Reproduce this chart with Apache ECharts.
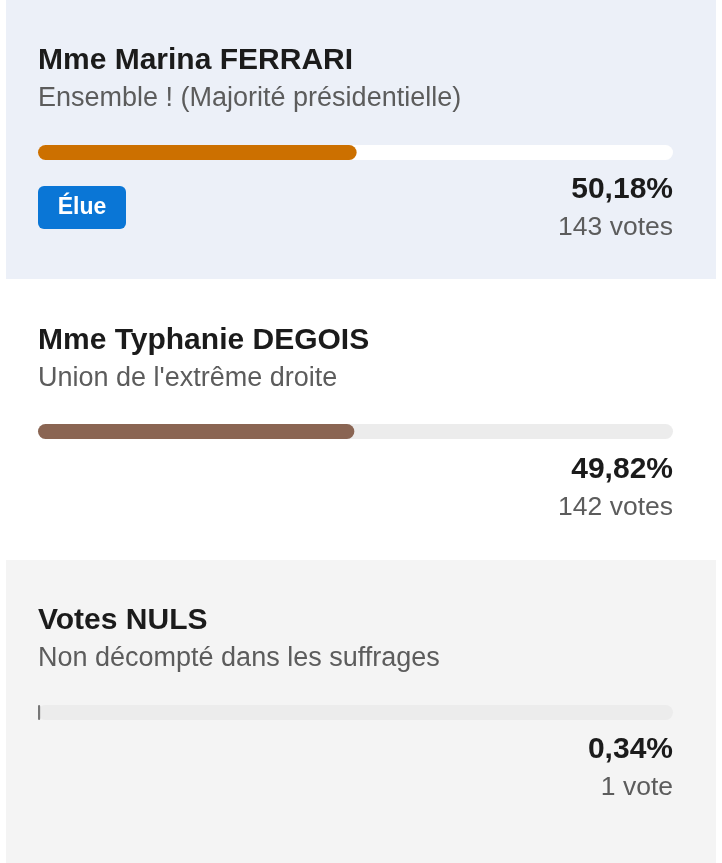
<!DOCTYPE html>
<html>
<head>
<meta charset="utf-8">
<script src="https://cdn.jsdelivr.net/npm/echarts@6/dist/echarts.min.js"></script>
<style>
  html, body { margin: 0; padding: 0; background: #ffffff; }
  #chart { width: 722px; height: 863px; }
</style>
</head>
<body>
<div id="chart"></div>
<script>
// ---- data ----
var candidates = ['Mme Marina FERRARI', 'Mme Typhanie DEGOIS', 'Votes NULS'];
var parties = ['Ensemble ! (Majorité présidentielle)', "Union de l'extrême droite", 'Non décompté dans les suffrages'];
var percents = [50.18, 49.82, 0.34];
var votes = [143, 142, 1];
var elected = [true, false, false];

// ---- styles ----
var barColors = ['#cc7000', '#8a6553', '#777777'];
var trackColors = ['#ffffff', '#ececec', '#ececec'];
var panelColors = ['#ecf0f8', '#ffffff', '#f4f4f4'];
var panelTops = [0, 279, 560];
var panelBottoms = [279, 560, 863];
var offsets = [0, 280, 560];
var FONT = '"Liberation Sans", Arial, sans-serif';
var NAME_FS = 30, SUB_FS = 27, PCT_FS = 30, VOTE_FS = 26.5;

var chart = echarts.init(document.getElementById('chart'), null, { renderer: 'canvas' });

var grids = [], xAxes = [], yAxes = [], series = [], graphics = [];

for (var i = 0; i < candidates.length; i++) {
  var off = offsets[i];
  graphics.push({
    type: 'rect', z: -10, silent: true,
    shape: { x: 6, y: panelTops[i], width: 710, height: panelBottoms[i] - panelTops[i] },
    style: { fill: panelColors[i] }
  });
  grids.push({ left: 38, width: 635, top: 145 + off - (i === 1 ? 1 : 0), height: 15 });
  xAxes.push({ type: 'value', gridIndex: i, min: 0, max: 100, show: false });
  yAxes.push({ type: 'category', gridIndex: i, data: [candidates[i]], show: false });
  series.push({
    type: 'bar', xAxisIndex: i, yAxisIndex: i,
    data: [percents[i]], barWidth: 15,
    itemStyle: { color: barColors[i], borderRadius: 7.5 },
    showBackground: true,
    backgroundStyle: { color: trackColors[i], borderRadius: 7.5 },
    silent: true, animation: false
  });
  // name
  graphics.push({
    type: 'text',
    x: 38, y: 71.5 + off - 0.35 * NAME_FS,
    style: { text: candidates[i], font: 'bold ' + NAME_FS + 'px ' + FONT, fill: '#1b1b1b', verticalAlign: 'middle', align: 'left' }
  });
  // party
  graphics.push({
    type: 'text',
    x: 38, y: 108 + off - 0.35 * SUB_FS,
    style: { text: parties[i], font: SUB_FS + 'px ' + FONT, fill: '#5c5c5c', verticalAlign: 'middle', align: 'left' }
  });
  // percent
  graphics.push({
    type: 'text',
    x: 673, y: 200 + off - 0.35 * PCT_FS,
    style: { text: percents[i].toFixed(2).replace('.', ',') + '%', font: 'bold ' + PCT_FS + 'px ' + FONT, fill: '#1b1b1b', verticalAlign: 'middle', align: 'right' }
  });
  // votes
  graphics.push({
    type: 'text',
    x: 673, y: 237 + off - 0.35 * VOTE_FS,
    style: { text: votes[i] + (votes[i] > 1 ? ' votes' : ' vote'), font: VOTE_FS + 'px ' + FONT, fill: '#5c5c5c', verticalAlign: 'middle', align: 'right' }
  });
  if (elected[i]) {
    graphics.push({
      type: 'rect',
      shape: { x: 38, y: 186 + off, width: 88, height: 43, r: 6 },
      style: { fill: '#0a76d6' }
    });
    graphics.push({
      type: 'text',
      x: 82, y: 216 + off - 0.35 * 23,
      style: { text: 'Élue', font: 'bold 23px ' + FONT, fill: '#ffffff', verticalAlign: 'middle', align: 'center' }
    });
  }
}

chart.setOption({
  animation: false,
  backgroundColor: '#ffffff',
  grid: grids,
  xAxis: xAxes,
  yAxis: yAxes,
  series: series,
  graphic: graphics
});
</script>
</body>
</html>
